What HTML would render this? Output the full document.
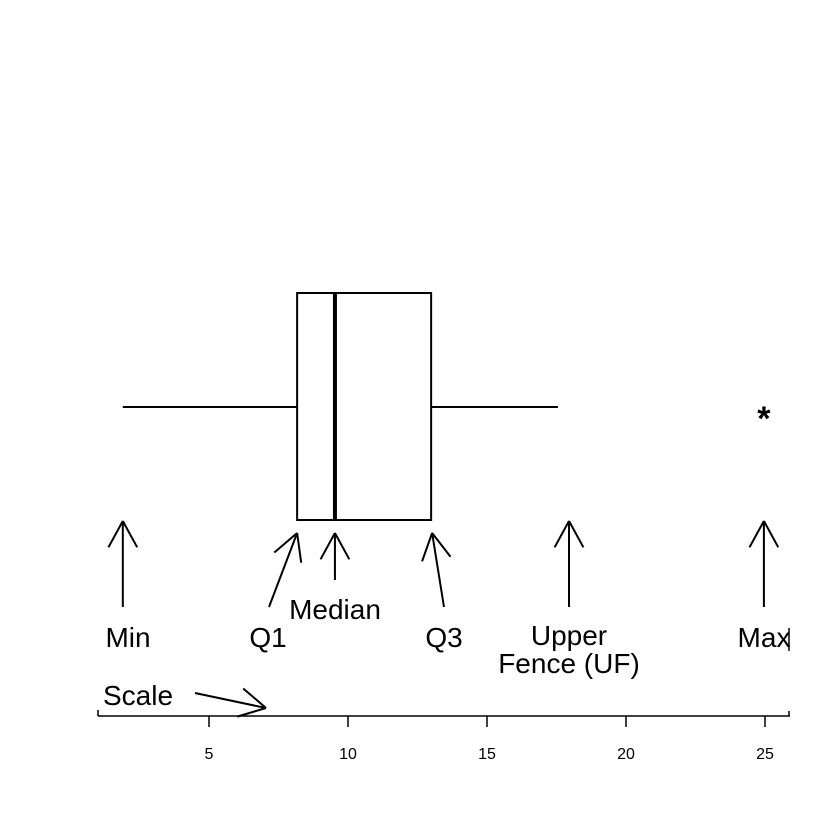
<!DOCTYPE html>
<html><head><meta charset="utf-8"><style>
html,body{margin:0;padding:0;background:#fff;}
svg{display:block;font-family:"Liberation Sans",Arial,sans-serif;}
</style></head><body>
<svg id="chart" width="840" height="839" viewBox="0 0 840 839" xmlns="http://www.w3.org/2000/svg">
<defs><clipPath id="plotclip"><rect x="0" y="0" width="790" height="839"/></clipPath></defs>
<g id="marks" clip-path="url(#plotclip)"></g>
<g id="axis"></g>
</svg>
<script>
const ticks = [5, 10, 15, 20, 25];
const tickLabels = ["5", "10", "15", "20", "25"];
const whiskerLow = [1.9];
const q1 = [8.17];
const median = [9.53];
const q3 = [12.99];
const whiskerHigh = [17.55];
const upperFence = [17.95];
const outliers = [24.96];

const NS = "http://www.w3.org/2000/svg";
function xs(v){ return 209 + (v - 5) * 27.8; }
const marks = document.getElementById('marks');
const axis = document.getElementById('axis');
function mk(parent, tag, attrs, name){
  const e = document.createElementNS(NS, tag);
  for (const k in attrs) e.setAttribute(k, attrs[k]);
  
  
  parent.appendChild(e);
  return e;
}
function line(p, x1, y1, x2, y2, w, name){
  return mk(p, 'line', {x1:x1, y1:y1, x2:x2, y2:y2, stroke:'#000', 'stroke-width':w}, name);
}
function arrow(x1, y1, x2, y2, name){
  line(marks, x1, y1, x2, y2, 2, name);
  const a = Math.atan2(y2 - y1, x2 - x1), L = 30, s = 0.5;
  line(marks, x2, y2, x2 - L*Math.cos(a - s), y2 - L*Math.sin(a - s), 2, name + '-head');
  line(marks, x2, y2, x2 - L*Math.cos(a + s), y2 - L*Math.sin(a + s), 2, name + '-head');
}
function text(x, y, str, size, anchor, name){
  const t = mk(marks, 'text', {x:x, y:y, 'font-size':size, 'text-anchor':anchor, fill:'#000'}, name);
  t.textContent = str;
  return t;
}
const yTop = 293, yBot = 520, yMid = 407;
line(marks, xs(whiskerLow[0]), yMid, xs(q1[0]), yMid, 2, 'lower-whisker');
line(marks, xs(q3[0]), yMid, xs(whiskerHigh[0]), yMid, 2, 'upper-whisker');
mk(marks, 'rect', {x:xs(q1[0]), y:yTop, width:xs(q3[0]) - xs(q1[0]), height:yBot - yTop, fill:'none', stroke:'#000', 'stroke-width':2}, 'iqr-box');
line(marks, xs(median[0]), yTop, xs(median[0]), yBot, 4, 'median-line');
outliers.forEach(function(v){
  const t = text(xs(v), 430, '*', 34, 'middle', 'outlier-point');
  t.setAttribute('font-weight', 'bold');
});
arrow(xs(whiskerLow[0]), 607, xs(whiskerLow[0]), 521, 'min-arrow');
arrow(269, 607, xs(q1[0]), 533, 'q1-arrow');
arrow(xs(median[0]), 580, xs(median[0]), 533, 'median-arrow');
arrow(444, 607, xs(q3[0]) + 1, 533, 'q3-arrow');
arrow(xs(upperFence[0]), 607, xs(upperFence[0]), 521, 'upper-fence-arrow');
arrow(xs(outliers[0]), 607, xs(outliers[0]), 521, 'max-arrow');
arrow(195, 693, 266, 708, 'scale-arrow');
const FS = 28;
text(128, 647, 'Min', FS, 'middle', 'min-label');
text(268, 647, 'Q1', FS, 'middle', 'q1-label');
text(335, 619, 'Median', FS, 'middle', 'median-label');
text(444, 647, 'Q3', FS, 'middle', 'q3-label');
text(569, 645, 'Upper', FS, 'middle', 'upper-fence-label-line1');
text(569, 673, 'Fence (UF)', FS, 'middle', 'upper-fence-label-line2');
text(764, 647, 'Max', FS, 'middle', 'max-label');
text(103, 705, 'Scale', FS, 'start', 'scale-label');
line(marks, 789, 628, 789, 651, 1.5, 'max-label-edge');
const y0 = 716;
line(axis, 98, y0, 790, y0, 1.5, 'x-axis-line');
line(axis, 98, y0 - 6, 98, y0, 1.5, 'x-axis-left-end');
line(axis, 789, y0 - 5, 789, y0, 1.5, 'x-axis-right-end');
ticks.forEach(function(v, i){
  line(axis, xs(v), y0, xs(v), y0 + 11, 1.5, 'x-tick');
  const t = mk(axis, 'text', {x:xs(v), y:759, 'font-size':16, 'text-anchor':'middle', fill:'#000'}, 'x-tick-label');
  t.textContent = tickLabels[i];
});
</script>
</body></html>
